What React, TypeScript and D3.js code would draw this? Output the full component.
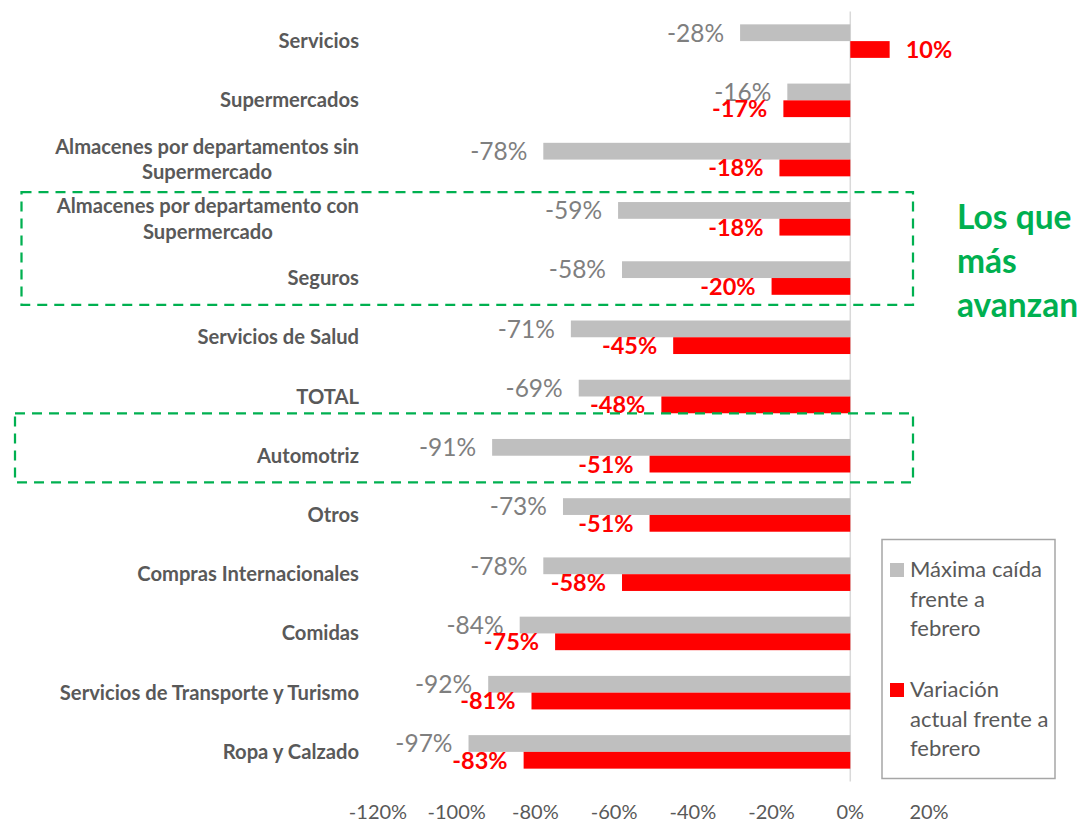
import { useEffect, useRef } from "react";
import * as d3 from "d3";

const categories = [
  "Servicios",
  "Supermercados",
  "Almacenes por departamentos sin\nSupermercado",
  "Almacenes por departamento con\nSupermercado",
  "Seguros",
  "Servicios de Salud",
  "TOTAL",
  "Automotriz",
  "Otros",
  "Compras Internacionales",
  "Comidas",
  "Servicios de Transporte y Turismo",
  "Ropa y Calzado",
];

const maxDrop = [-28, -16, -78, -59, -58, -71, -69, -91, -73, -78, -84, -92, -97];
const currentChange = [10, -17, -18, -18, -20, -45, -48, -51, -51, -58, -75, -81, -83];

const xTicks = [-120, -100, -80, -60, -40, -20, 0, 20];

const legendItems = [
  { key: "max", lines: ["Máxima caída", "frente a", "febrero"] },
  { key: "cur", lines: ["Variación", "actual frente a", "febrero"] },
];

const highlightGroups = [
  ["Almacenes por departamento con\nSupermercado", "Seguros"],
  ["Automotriz"],
];
const highlightNote = ["Los que", "más", "avanzan"];

const FONT = "Lato, 'Open Sans', sans-serif";
const GRAY = "#bfbfbf";
const RED = "#ff0000";
const GREEN = "#00b050";
const TEXT = "#595959";

export default function App() {
  const ref = useRef<SVGSVGElement | null>(null);

  useEffect(() => {
    if (!ref.current) return;
    const svg = d3.select(ref.current);
    svg.selectAll("*").remove();

    const x = d3.scaleLinear().domain([-120, 20]).range([378, 929]);
    const y = d3
      .scaleBand<string>()
      .domain(categories)
      .range([11.5, 781.5])
      .paddingInner(0.434)
      .paddingOuter(0.217);
    const sub = d3.scaleBand<string>().domain(["max", "cur"]).range([0, y.bandwidth()]);
    const fill = d3.scaleOrdinal<string, string>().domain(["max", "cur"]).range([GRAY, RED]);

    const rows = categories.map((c, i) => ({ c, max: maxDrop[i], cur: currentChange[i] }));

    // zero line
    svg
      .append("line")
      .attr("x1", x(0))
      .attr("x2", x(0))
      .attr("y1", 11.5)
      .attr("y2", 781.5)
      .attr("stroke", "#d9d9d9")
      .attr("stroke-width", 1.5);

    // bars + value labels
    const g = svg.append("g");
    (["max", "cur"] as const).forEach((key) => {
      g.selectAll(`rect.${key}`)
        .data(rows)
        .join("rect")
        .attr("class", key)
        .attr("x", (d) => x(Math.min(0, d[key])))
        .attr("width", (d) => Math.abs(x(d[key]) - x(0)))
        .attr("y", (d) => (y(d.c) ?? 0) + (sub(key) ?? 0))
        .attr("height", sub.bandwidth())
        .attr("fill", fill(key));

      g.selectAll(`text.${key}`)
        .data(rows)
        .join("text")
        .attr("class", key)
        .attr("x", (d) => (d[key] < 0 ? x(d[key]) - 16 : x(d[key]) + 16))
        .attr("y", (d) => (y(d.c) ?? 0) + (sub(key) ?? 0) + sub.bandwidth() / 2)
        .attr("dy", "0.36em")
        .attr("text-anchor", (d) => (d[key] < 0 ? "end" : "start"))
        .attr("font-family", FONT)
        .attr("font-size", key === "cur" ? 23.5 : 24.5)
        .attr("font-weight", key === "cur" ? 700 : 400)
        .attr("fill", key === "cur" ? RED : "#7f7f7f")
        .text((d) => `${d[key]}%`);
    });

    // category labels (multi-line centred block, right aligned)
    const labelRight = 359;
    categories.forEach((c) => {
      const lines = c.split("\n");
      const t = svg
        .append("text")
        .attr("font-family", FONT)
        .attr("font-size", 20.2)
        .attr("font-weight", 700)
        .attr("fill", TEXT)
        .attr("text-anchor", "middle");
      const cy = (y(c) ?? 0) + y.bandwidth() / 2;
      const lh = 25.5;
      const spans = lines.map((line, i) =>
        t
          .append("tspan")
          .attr("y", cy + (i - (lines.length - 1) / 2) * lh)
          .attr("dy", "0.35em")
          .text(line)
      );
      const w = d3.max(spans, (s) => (s.node() as SVGTSpanElement).getComputedTextLength()) ?? 0;
      spans.forEach((s) => s.attr("x", labelRight - w / 2));
    });

    // x axis tick labels
    svg
      .append("g")
      .selectAll("text")
      .data(xTicks)
      .join("text")
      .attr("x", (d) => x(d))
      .attr("y", 812)
      .attr("dy", "0.35em")
      .attr("text-anchor", "middle")
      .attr("font-family", FONT)
      .attr("font-size", 20)
      .attr("fill", TEXT)
      .text((d) => `${d}%`);

    // highlight boxes
    const boxRects = [
      { x0: 21.5, x1: 913, pt: 10, pb: 10 },
      { x0: 15, x1: 913, pt: 25.5, pb: 10 },
    ];
    highlightGroups.forEach((grp, i) => {
      const top = (y(grp[0]) ?? 0) - boxRects[i].pt;
      const bottom = (y(grp[grp.length - 1]) ?? 0) + y.bandwidth() + boxRects[i].pb;
      svg
        .append("rect")
        .attr("x", boxRects[i].x0)
        .attr("y", top)
        .attr("width", boxRects[i].x1 - boxRects[i].x0)
        .attr("height", bottom - top)
        .attr("fill", "none")
        .attr("stroke", GREEN)
        .attr("stroke-width", 2.25)
        .attr("stroke-dasharray", "10 7");
    });

    svg
      .append("g")
      .selectAll("text")
      .data(highlightNote)
      .join("text")
      .attr("x", 957)
      .attr("y", (_, i) => 229 + i * 44)
      .attr("font-family", FONT)
      .attr("font-size", 33.5)
      .attr("font-weight", 700)
      .attr("fill", GREEN)
      .text((d) => d);

    // legend
    const legend = svg.append("g");
    legend
      .append("rect")
      .attr("x", 882)
      .attr("y", 539.5)
      .attr("width", 173)
      .attr("height", 239)
      .attr("fill", "white")
      .attr("stroke", "#a6a6a6")
      .attr("stroke-width", 1.5);
    legendItems.forEach((item, i) => {
      const base = 577 + i * 120;
      legend
        .append("rect")
        .attr("x", 890)
        .attr("y", base - 14)
        .attr("width", 14)
        .attr("height", 14)
        .attr("fill", fill(item.key));
      item.lines.forEach((line, j) => {
        legend
          .append("text")
          .attr("x", 910)
          .attr("y", base + j * 29.7)
          .attr("font-family", FONT)
          .attr("font-size", 22)
          .attr("fill", TEXT)
          .text(line);
      });
    });
  }, []);

  return (
    <svg
      ref={ref}
      width={1084}
      height={822}
      style={{ position: "absolute", left: 0, top: 0, background: "white" }}
    />
  );
}
